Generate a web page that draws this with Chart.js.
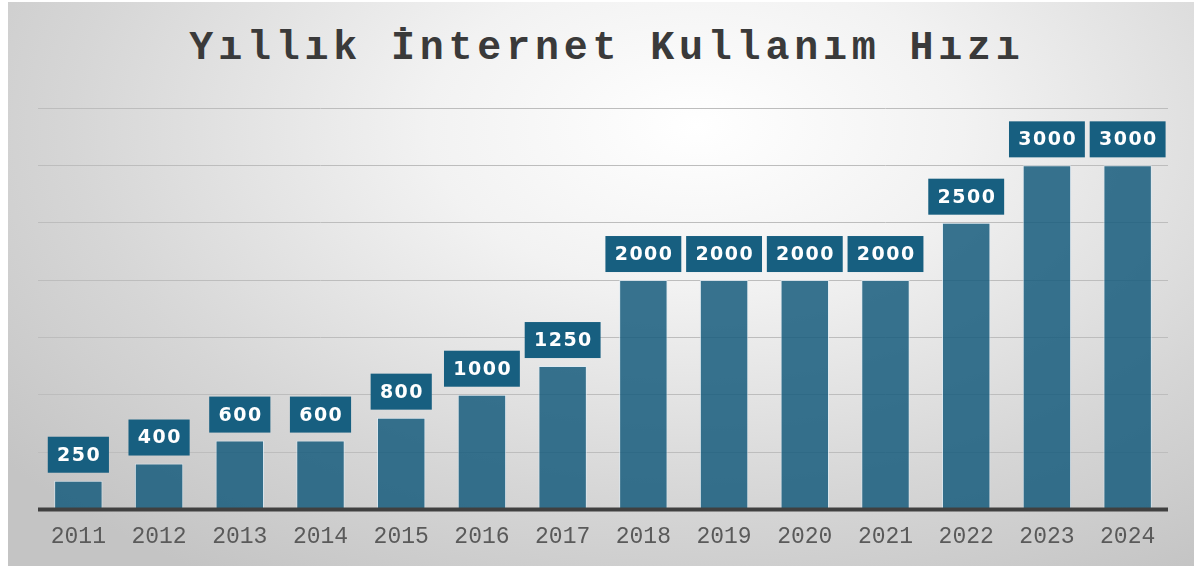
<!DOCTYPE html>
<html>
<head>
<meta charset="utf-8">
<script src="https://cdn.jsdelivr.net/npm/chart.js@4.4.1/dist/chart.umd.min.js"></script>
<style>
body { margin: 0; background: #fff; }
#wrap {
  position: absolute; left: 8px; top: 2px; width: 1186px; height: 564px;
  background: radial-gradient(ellipse 75% 95% at 58% 22%, #ffffff 0%, #f2f2f2 30%, #d6d6d6 70%, #c4c4c4 100%);
}
#title {
  position: absolute; left: 10px; top: 26px; width: 1194px; text-align: center;
  font-family: 'Liberation Mono', monospace; font-weight: bold; font-size: 40px;
  letter-spacing: 4.8px; color: #3a3a3a;
}
#c { position: absolute; left: 0; top: 0; }
</style>
</head>
<body>
<div id="wrap"></div>
<div id="title">Yıllık İnternet Kullanım Hızı</div>
<canvas id="c" width="1194" height="570"></canvas>
<script>
// data
const years = ['2011', '2012', '2013', '2014', '2015', '2016', '2017', '2018', '2019', '2020', '2021', '2022', '2023', '2024'];
const speeds = [250, 400, 600, 600, 800, 1000, 1250, 2000, 2000, 2000, 2000, 2500, 3000, 3000];

// value boxes above the bars
const boxLabels = {
  id: 'boxLabels',
  afterDatasetsDraw(chart) {
    const ctx = chart.ctx;
    const meta = chart.getDatasetMeta(0);
    ctx.save();
    ctx.font = 'bold 19px "DejaVu Sans"';
    ctx.letterSpacing = '1.5px';
    ctx.textAlign = 'center';
    ctx.textBaseline = 'middle';
    meta.data.forEach((bar, i) => {
      const txt = String(speeds[i]);
      const w = ctx.measureText(txt).width + 17;
      const h = 36;
      const bottom = bar.y - 8;
      ctx.fillStyle = '#175f80';
      ctx.fillRect(bar.x - w / 2, bottom - h, w, h);
      ctx.fillStyle = '#ffffff';
      ctx.fillText(txt, bar.x + 0.75, bottom - h / 2 + 1);
    });
    ctx.restore();
  }
};

// thick base line at zero
const baseLine = {
  id: 'baseLine',
  afterDatasetsDraw(chart) {
    const ctx = chart.ctx;
    const a = chart.chartArea;
    const y0 = chart.scales.y.getPixelForValue(0);
    ctx.save();
    ctx.strokeStyle = '#404040';
    ctx.lineWidth = 4;
    ctx.beginPath();
    ctx.moveTo(a.left, y0);
    ctx.lineTo(a.right, y0);
    ctx.stroke();
    ctx.restore();
  }
};

new Chart(document.getElementById('c'), {
  type: 'bar',
  data: {
    labels: years,
    datasets: [{
      data: speeds,
      backgroundColor: 'rgba(22,92,124,0.85)',
      borderColor: 'rgba(220,235,245,0.7)',
      borderWidth: 1,
      barPercentage: 0.6,
      categoryPercentage: 1
    }]
  },
  options: {
    responsive: false,
    animation: false,
    layout: { padding: { left: 38, right: 26, top: 108, bottom: 13 } },
    plugins: { legend: { display: false }, tooltip: { enabled: false } },
    scales: {
      x: {
        grid: { display: false },
        border: { display: false },
        ticks: {
          padding: 6,
          color: '#5a5a5a',
          font: { family: 'Liberation Mono', size: 23 }
        }
      },
      y: {
        min: 0, max: 3500,
        ticks: { display: false, stepSize: 500 },
        border: { display: false },
        grid: { color: '#bdbdbd', lineWidth: 1, drawTicks: false }
      }
    }
  },
  plugins: [boxLabels, baseLine]
});
</script>
</body>
</html>
